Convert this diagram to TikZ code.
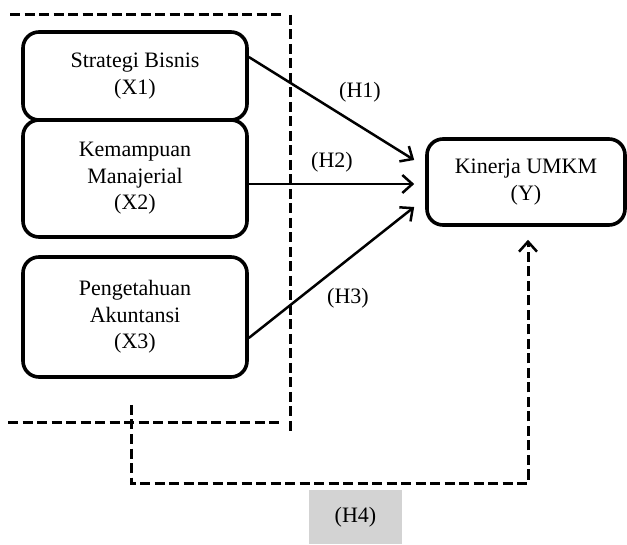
\documentclass[tikz,border=0pt]{standalone}
\usepackage{fontspec}
\setmainfont{Liberation Serif}
\usetikzlibrary{arrows.meta,calc}
\begin{document}
\begin{tikzpicture}[x=1pt,y=-1pt,
  varbox/.style={draw,line width=3.6pt,rounded corners=16pt,align=center,
    minimum width=224pt,inner sep=0pt,font=\fontsize{22}{26.5}\selectfont},
  link/.style={line width=2.5pt,-{Straight Barb[length=10pt,width=18pt,line width=2.5pt]}},
  frame/.style={line width=3pt,dash pattern=on 10pt off 4.5pt},
  hlabel/.style={font=\fontsize{22}{26}\selectfont,inner sep=0pt}]
\useasboundingbox (0,0) rectangle (627,545);

% boundary of the independent variables
\draw[frame] (10,15) -- (283,15);
\draw[frame] (290,15) -- (290,433);
\draw[frame] (8,423) -- (282,423);

% variables
\node[varbox,minimum height=88pt] (x1) at (135,76) {Strategi Bisnis\\(X1)};
\node[varbox,minimum height=117pt] (x2) at (135,178.5) {Kemampuan\\Manajerial\\(X2)};
\node[varbox,minimum height=120pt] (x3) at (135,317) {Pengetahuan\\Akuntansi\\(X3)};
\node[varbox,minimum width=198pt,minimum height=86pt] (y) at (526,182) {Kinerja UMKM\\(Y)};

% hypotheses H1--H3
\draw[link] ([yshift=19pt]x1.east) -- ([xshift=-11pt,yshift=22pt]y.west);
\draw[link] ([yshift=-5.5pt]x2.east) -- ([xshift=-11pt,yshift=-2pt]y.west);
\draw[link] ([yshift=-21pt]x3.east) -- ([xshift=-11pt,yshift=-25pt]y.west);
\node[hlabel] (h1) at (360,92) {(H1)};
\node[hlabel] (h2) at (332,162) {(H2)};
\node[hlabel] (h3) at (348,298) {(H3)};

% simultaneous effect H4
\coordinate (h4s) at (131,405);
\coordinate (h4t) at ([xshift=2pt,yshift=-13pt]y.south);
\draw[frame,-{Straight Barb[length=10pt,width=18pt,line width=2.5pt]}]
  (h4s) -- ++(0,78) -| (h4t);
\node[hlabel,fill={rgb,255:red,211;green,211;blue,211},minimum width=93pt,minimum height=54pt] (h4) at (355.5,517) {(H4)};
\end{tikzpicture}
\end{document}
